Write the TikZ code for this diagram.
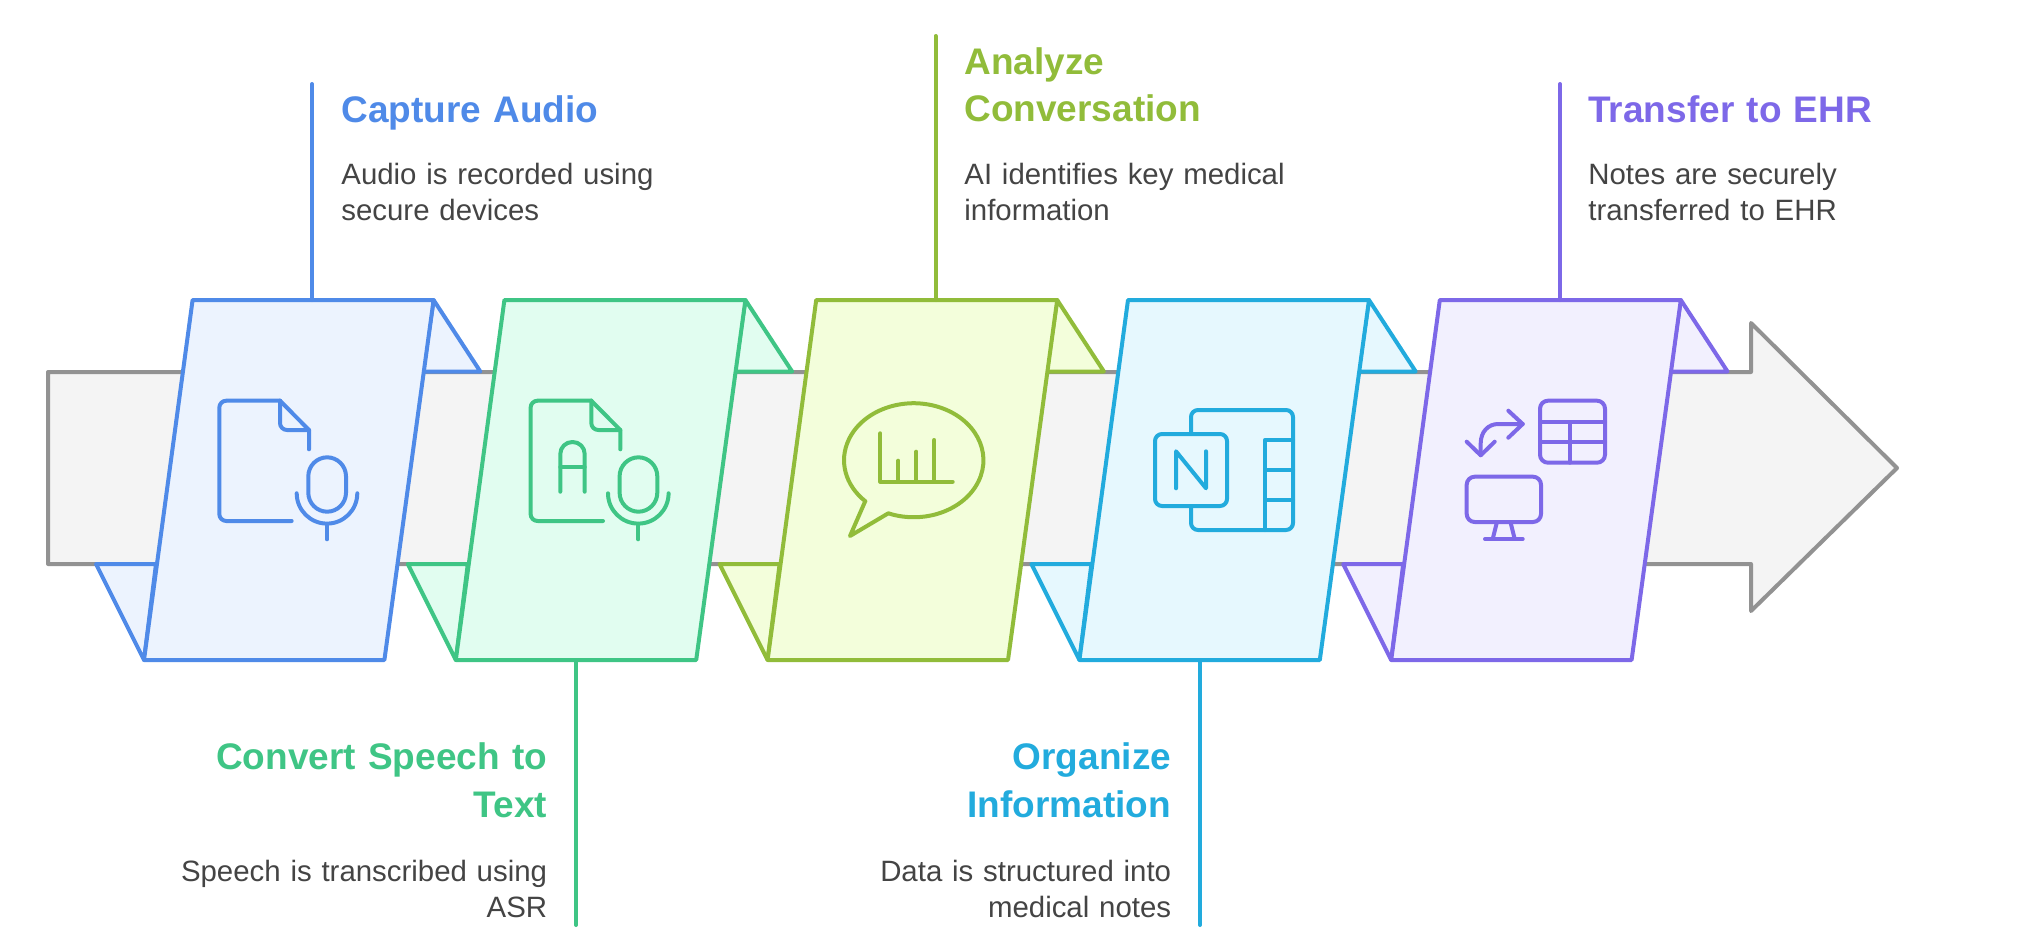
\documentclass[tikz,border=0pt]{standalone}
\usepackage{fontspec}
\setmainfont{Liberation Sans}
\usepackage{xcolor}
\definecolor{greyline}{HTML}{929292}
\definecolor{greyfill}{HTML}{F4F4F4}
\definecolor{textgrey}{HTML}{444444}
\definecolor{capcol}{HTML}{4F8AE8}
\definecolor{capfill}{HTML}{ECF3FE}
\definecolor{spchcol}{HTML}{3FC585}
\definecolor{spchfill}{HTML}{E1FDF0}
\definecolor{anlzcol}{HTML}{91BC3A}
\definecolor{anlzfill}{HTML}{F3FEDB}
\definecolor{orgcol}{HTML}{22ABDD}
\definecolor{orgfill}{HTML}{E6F8FE}
\definecolor{xfercol}{HTML}{7D68E8}
\definecolor{xferfill}{HTML}{F2F0FE}
\newcommand{\micicon}[1]{%
\draw[icon=#1, rounded corners=9.5pt] (308.3,457.3) rectangle (346,511.7);
\draw[icon=#1] (296.7,493.3) arc[start angle=180, end angle=0, radius=30.3];
\draw[icon=#1] (327,523.8) -- (327,539.3);
}
\begin{document}
\begin{tikzpicture}[
x=0.5pt, y=-0.5pt,
icon/.style={draw=#1, line width=2pt, line cap=round, line join=round},
leader/.style={draw=#1, line width=2pt, line cap=round},
panel/.style={draw=#1, line width=2pt, line join=round},
heading/.style={font=\fontsize{18.5}{24}\selectfont\bfseries, inner sep=0pt, text width=190pt},
body/.style={font=\fontsize{14.7}{18}\selectfont, text=textgrey, inner sep=0pt, text width=190pt}
]
\useasboundingbox (0,0) rectangle (2040,942);
% main arrow
\draw[draw=greyline, fill=greyfill, line width=2pt, line join=round] (48,372) -- (1751,372) -- (1751,323) -- (1897,468) -- (1751,611) -- (1751,564) -- (48,564) -- cycle;
% panels
\foreach \i/\c/\f in {0/capcol/capfill, 1/spchcol/spchfill, 2/anlzcol/anlzfill, 3/orgcol/orgfill, 4/xfercol/xferfill}{
  \begin{scope}[shift={(311.8*\i,0)}]
  \draw[panel=\c, fill=\f] (433.6,300) -- (480.3,371.5) -- (423,371.5) -- cycle;
  \draw[panel=\c, fill=\f] (96,564) -- (156,564) -- (144,660) -- cycle;
  \draw[panel=\c, fill=\f] (192.6,300) -- (433.6,300) -- (384.4,660) -- (144,660) -- cycle;
  \end{scope}
}
% file and mic
\draw[icon=capcol, rounded corners=3.5pt] (291.7,521) -- (219.3,521) -- (219.3,400.7) -- (280,400.7);
\draw[icon=capcol] (280,400.7) -- (309,430) -- (309,449.3);
\draw[icon=capcol, rounded corners=3.5pt] (280,400.7) -- (280,430) -- (309,430);
\micicon{capcol}
% file, letter and mic
\begin{scope}[shift={(311.3,0)}]
\draw[icon=spchcol, rounded corners=3.5pt] (291.7,521) -- (219.3,521) -- (219.3,400.7) -- (280,400.7);
\draw[icon=spchcol] (280,400.7) -- (309,430) -- (309,449.3);
\draw[icon=spchcol, rounded corners=3.5pt] (280,400.7) -- (280,430) -- (309,430);
\micicon{spchcol}
\end{scope}
\draw[icon=spchcol, rounded corners=6pt] (560.3,491.7) -- (560.3,442) -- (584.7,442) -- (584.7,491.7);
\draw[icon=spchcol] (560.3,467.3) -- (584.7,467.3);
% speech bubble
\draw[icon=anlzcol] (865,501.7) -- (850,536) -- (888.3,513.3) arc[start angle=111.4, end angle=-226.1, x radius=69.7, y radius=57];
\draw[icon=anlzcol] (880.3,433.3) -- (880.3,481.7) -- (952.7,481.7);
\foreach \bx/\by in {898.3/460.7, 916.3/451.7, 934.3/440}{
  \draw[icon=anlzcol] (\bx,\by) -- (\bx,481.7);
}
% notebook
\draw[icon=orgcol, rounded corners=3.5pt] (1191,432) -- (1191,410) -- (1293,410) -- (1293,530) -- (1191,530) -- (1191,507.3);
\draw[icon=orgcol, rounded corners=3.5pt] (1155,434) rectangle (1227,506);
\draw[icon=orgcol, line join=round] (1176,488.3) -- (1176,451.3) -- (1206,488.3) -- (1206,451.3);
\draw[icon=orgcol] (1265.3,530) -- (1265.3,439.7) -- (1293,439.7);
\draw[icon=orgcol] (1265.3,469.7) -- (1293,469.7);
\draw[icon=orgcol] (1265.3,499.7) -- (1293,499.7);
% table, monitor, arrows
\draw[icon=xfercol, rounded corners=4pt] (1540,400.7) rectangle (1605,462.7);
\draw[icon=xfercol] (1540,422) -- (1605,422);
\draw[icon=xfercol] (1540,441.7) -- (1605,441.7);
\draw[icon=xfercol] (1569.7,422) -- (1569.7,462.7);
\draw[icon=xfercol, rounded corners=4pt] (1466.7,476.7) rectangle (1541,522);
\draw[icon=xfercol] (1496.7,523) -- (1492.7,539);
\draw[icon=xfercol] (1510.7,523) -- (1514.7,539);
\draw[icon=xfercol] (1485,539) -- (1522.7,539);
\draw[icon=xfercol] (1522.7,424) -- (1498.3,424) .. controls (1488,424) and (1480.7,432) .. (1480.7,443.3) -- (1480.7,455.3);
\draw[icon=xfercol] (1508.3,410.7) -- (1522.7,424) -- (1508.3,437.7);
\draw[icon=xfercol] (1466.7,441.7) -- (1480.7,455.3) -- (1494.7,441.7);
% labels
\node[heading, text=capcol, anchor=base west, align=left] (capturehead) at (341,122) {Capture Audio};
\node[body, anchor=base west, align=left] (capturebody) at (341,184.5) {Audio is recorded using\\secure devices};
\node[heading, text=anlzcol, anchor=base west, align=left] (analyzehead) at (964,74) {Analyze\\Conversation};
\node[body, anchor=base west, align=left] (analyzebody) at (964,184.5) {AI identifies key medical\\information};
\node[heading, text=xfercol, anchor=base west, align=left] (transferhead) at (1588,122) {Transfer to EHR};
\node[body, anchor=base west, align=left] (transferbody) at (1588,184.5) {Notes are securely\\transferred to EHR};
\node[heading, text=spchcol, anchor=base east, align=right] (speechhead) at (547.5,769) {Convert Speech to\\Text};
\node[body, anchor=base east, align=right] (speechbody) at (547.5,881) {Speech is transcribed using\\ASR};
\node[heading, text=orgcol, anchor=base east, align=right] (organizehead) at (1171.5,769) {Organize\\Information};
\node[body, anchor=base east, align=right] (organizebody) at (1171.5,881) {Data is structured into\\medical notes};
% leaders
\coordinate (capturetop) at (312,300);
\coordinate (captureend) at (312,84);
\coordinate (speechtop) at (576,660);
\coordinate (speechend) at (576,925);
\coordinate (analyzetop) at (935.5,300);
\coordinate (analyzeend) at (935.5,36);
\coordinate (organizetop) at (1200,660);
\coordinate (organizeend) at (1200,925);
\coordinate (transfertop) at (1560,300);
\coordinate (transferend) at (1560,84);
\draw[leader=capcol] (capturetop) -- (captureend);
\draw[leader=spchcol] (speechtop) -- (speechend);
\draw[leader=anlzcol] (analyzetop) -- (analyzeend);
\draw[leader=orgcol] (organizetop) -- (organizeend);
\draw[leader=xfercol] (transfertop) -- (transferend);
\end{tikzpicture}
\end{document}
